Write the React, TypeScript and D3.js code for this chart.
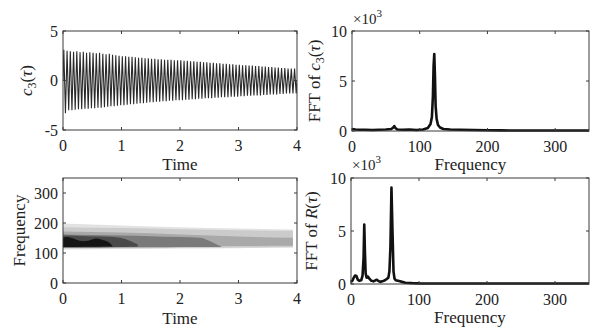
import React from 'react';
import * as d3 from 'd3';

const W = 595;
const H = 329;
const FONT = '"Liberation Serif", "Times New Roman", serif';

// ---------------- data ----------------
// c3(tau): successive positive / negative peaks of the oscillation (18 cycles per time unit)
const c3UpperPeaks = [
  3.1, 3.0, 2.95, 2.9, 2.95, 2.85, 2.9, 2.8, 2.85, 2.8, 2.75, 2.8, 2.7, 2.65, 2.7, 2.6, 2.55, 2.5,
  2.45, 2.45, 2.4, 2.4, 2.35, 2.3, 2.3, 2.25, 2.25, 2.2, 2.2, 2.15, 2.15, 2.1, 2.1, 2.1, 2.05, 2.05,
  2.05, 2.0, 2.0, 1.95, 1.95, 1.9, 1.9, 1.85, 1.85, 1.8, 1.8, 1.75, 1.75, 1.7, 1.7, 1.65, 1.65, 1.6,
  1.6, 1.55, 1.55, 1.5, 1.5, 1.45, 1.45, 1.4, 1.4, 1.35, 1.35, 1.3, 1.3, 1.25, 1.25, 1.2, 1.2, 1.2,
];
const c3LowerPeaks = [
  -3.3, -3.0, -3.0, -2.95, -2.9, -2.9, -2.85, -2.85, -2.8, -2.8, -2.75, -2.75, -2.7, -2.65, -2.6, -2.6, -2.55, -2.5,
  -2.5, -2.45, -2.4, -2.4, -2.35, -2.3, -2.3, -2.25, -2.2, -2.2, -2.15, -2.15, -2.1, -2.1, -2.05, -2.05, -2.0, -2.0,
  -2.0, -1.95, -1.95, -1.9, -1.9, -1.85, -1.85, -1.8, -1.8, -1.8, -1.75, -1.75, -1.7, -1.7, -1.7, -1.65, -1.65, -1.65,
  -1.6, -1.6, -1.55, -1.55, -1.5, -1.5, -1.5, -1.45, -1.45, -1.4, -1.4, -1.4, -1.35, -1.35, -1.3, -1.3, -1.3, -1.3,
];
const c3Duration = 4;

// FFT of c3 (x10^3)
const fftC3Freq = [0, 5, 10, 20, 30, 40, 50, 58, 61, 62.5, 64, 67, 75, 85, 95, 105, 112, 116, 118, 119.5,
  120.5, 121.5, 122.5, 123.5, 125, 127, 130, 135, 145, 160, 180, 200, 220, 250, 280, 310, 350];
const fftC3Amp = [0.2, 0.15, 0.12, 0.12, 0.1, 0.12, 0.15, 0.2, 0.35, 0.5, 0.3, 0.15, 0.12, 0.15, 0.1, 0.15, 0.3, 0.7, 1.4, 3.5,
  6.5, 7.7, 5.5, 2.5, 1.2, 0.6, 0.35, 0.2, 0.15, 0.12, 0.1, 0.08, 0.06, 0.05, 0.05, 0.05, 0.05];

// FFT of R (x10^3)
const fftRFreq = [0, 2, 4, 6, 8, 10, 12, 15, 17, 18.5, 19.5, 20.5, 21.5, 23, 25, 27, 30, 33, 36, 38,
  40, 43, 46, 50, 53, 55, 56.5, 58, 59.5, 61, 62.5, 64, 66, 69, 72, 75, 80, 90, 100, 120,
  150, 200, 250, 300, 350];
const fftRAmp = [0.2, 0.3, 0.6, 0.8, 0.75, 0.4, 0.3, 0.35, 0.8, 2.5, 5.6, 3.0, 1.0, 0.6, 0.7, 0.5, 0.3, 0.25, 0.35, 0.4,
  0.3, 0.2, 0.25, 0.35, 0.5, 0.6, 1.2, 3.5, 9.1, 5.0, 1.2, 0.5, 0.35, 0.3, 0.25, 0.2, 0.12, 0.08, 0.06, 0.05,
  0.05, 0.05, 0.05, 0.05, 0.05];

// Spectrogram contour levels (time, lower frequency, upper frequency), lightest to darkest
const level1Time = [0, 1, 2, 3, 3.93];
const level1Low = [112, 113, 115, 116, 118];
const level1High = [198, 192, 186, 182, 178];
const level2Time = [0, 1, 2, 3, 3.93];
const level2Low = [115, 116, 117, 118, 119];
const level2High = [186, 183, 179, 176, 174];
const level3Time = [0, 1, 2, 3, 3.93];
const level3Low = [117, 119, 121, 123, 124];
const level3High = [172, 168, 162, 155, 151];
const level4Time = [0, 0.5, 1, 1.5, 2, 2.34, 2.55, 2.71];
const level4Low = [118, 118, 119, 119, 120, 120, 120, 120];
const level4High = [162, 160, 158, 156, 153, 151, 136, 121];
const level5Time = [0, 0.4, 0.8, 1.0, 1.15, 1.28];
const level5Low = [119, 119, 120, 120, 121, 122];
const level5High = [158, 156, 154, 150, 140, 128];
const level6Time = [0, 0.06, 0.2, 0.34, 0.45, 0.57, 0.68, 0.8, 0.85];
const level6Low = [120, 120, 120, 121, 121, 121, 122, 122, 122];
const level6High = [150, 153, 147, 139, 142, 148, 143, 133, 122];

const levelColors = ['#e2e2e2', '#cbcbcb', '#a9a9a9', '#7a7a7a', '#4a4a4a', '#151515'];

// ticks
const timeTicks = [0, 1, 2, 3, 4];
const c3Ticks = [-5, 0, 5];
const freqTicks = [0, 100, 200, 300];
const fftTicks = [0, 5, 10];

// ---------------- helpers ----------------
type Box = { x0: number; x1: number; y0: number; y1: number };

const TICK_FS = 16;
const LABEL_FS = 17;

function Frame({ box, xs, ys, xTicks, yTicks }: any) {
  const tl = 3;
  return (
    <g>
      <rect x={box.x0} y={box.y0} width={box.x1 - box.x0} height={box.y1 - box.y0}
        fill="none" stroke="#3a3a3a" strokeWidth={1} />
      {xTicks.map((t: number) => (
        <g key={'x' + t}>
          <line x1={xs(t)} x2={xs(t)} y1={box.y1} y2={box.y1 - tl} stroke="#3a3a3a" />
          <line x1={xs(t)} x2={xs(t)} y1={box.y0} y2={box.y0 + tl} stroke="#3a3a3a" />
          <text x={xs(t)} y={box.y1 + 21} textAnchor="middle" fontSize={TICK_FS} fill="#222">{t}</text>
        </g>
      ))}
      {yTicks.map((t: number) => (
        <g key={'y' + t}>
          <line x1={box.x0} x2={box.x0 + tl} y1={ys(t)} y2={ys(t)} stroke="#3a3a3a" />
          <line x1={box.x1} x2={box.x1 - tl} y1={ys(t)} y2={ys(t)} stroke="#3a3a3a" />
          <text x={box.x0 - 5} y={ys(t)} textAnchor="end" dominantBaseline="central" fontSize={TICK_FS} fill="#222">{t}</text>
        </g>
      ))}
    </g>
  );
}

function Multiplier({ x, y }: { x: number; y: number }) {
  return (
    <text x={x} y={y} fontSize={15} fill="#222">
      ×10<tspan dy={-7} fontSize={11}>3</tspan>
    </text>
  );
}

export default function App() {
  const tl: Box = { x0: 63, x1: 297, y0: 31, y1: 130 };
  const tr: Box = { x0: 352, x1: 589, y0: 31, y1: 131 };
  const bl: Box = { x0: 63, x1: 297, y0: 178, y1: 283 };
  const br: Box = { x0: 351, x1: 589, y0: 178, y1: 284 };

  // top-left
  const xTL = d3.scaleLinear().domain([0, 4]).range([tl.x0, tl.x1]);
  const yTL = d3.scaleLinear().domain([-5, 5]).range([tl.y1, tl.y0]);
  const period = c3Duration / c3UpperPeaks.length;
  const sig: [number, number][] = [[0, 0]];
  c3UpperPeaks.forEach((u, i) => {
    sig.push([(i + 0.25) * period, u]);
    sig.push([(i + 0.75) * period, c3LowerPeaks[i]]);
  });
  sig.push([c3Duration, 0]);
  const sigLine = d3.line<[number, number]>().x(d => xTL(d[0])).y(d => yTL(d[1]));

  // top-right
  const xTR = d3.scaleLinear().domain([0, 350]).range([tr.x0, tr.x1]);
  const yTR = d3.scaleLinear().domain([0, 10]).range([tr.y1, tr.y0]);
  const fftC3Line = d3.line<number>().x((_, i) => xTR(fftC3Freq[i])).y(d => yTR(d));

  // bottom-left
  const xBL = d3.scaleLinear().domain([0, 4]).range([bl.x0, bl.x1]);
  const yBL = d3.scaleLinear().domain([0, 350]).range([bl.y1, bl.y0]);
  const levels = [
    [level1Time, level1Low, level1High],
    [level2Time, level2Low, level2High],
    [level3Time, level3Low, level3High],
    [level4Time, level4Low, level4High],
    [level5Time, level5Low, level5High],
    [level6Time, level6Low, level6High],
  ];
  const area = (t: number[], lo: number[], hi: number[]) =>
    d3.area<number>()
      .x((_, i) => xBL(t[i]))
      .y0((_, i) => yBL(lo[i]))
      .y1((_, i) => yBL(hi[i]))
      .curve(d3.curveMonotoneX)(t);

  // bottom-right
  const xBR = d3.scaleLinear().domain([0, 350]).range([br.x0, br.x1]);
  const yBR = d3.scaleLinear().domain([0, 10]).range([br.y1, br.y0]);
  const fftRLine = d3.line<number>().x((_, i) => xBR(fftRFreq[i])).y(d => yBR(d));

  return (
    <svg width={W} height={H} viewBox={`0 0 ${W} ${H}`}
      style={{ position: 'absolute', left: 0, top: 0, background: '#fff' }}
      fontFamily={FONT}>
      <rect x={0} y={0} width={W} height={H} fill="#fff" />
      <defs>
        <clipPath id="clipBL"><rect x={bl.x0} y={bl.y0} width={bl.x1 - bl.x0} height={bl.y1 - bl.y0} /></clipPath>
        <clipPath id="clipTL"><rect x={tl.x0} y={tl.y0} width={tl.x1 - tl.x0} height={tl.y1 - tl.y0} /></clipPath>
      </defs>

      {/* top-left: c3 time series */}
      <g clipPath="url(#clipTL)">
        <path d={sigLine(sig) || ''} fill="none" stroke="#2a2a2a" strokeWidth={1.1} />
      </g>
      <Frame box={tl} xs={xTL} ys={yTL} xTicks={timeTicks} yTicks={c3Ticks} />
      <text x={tl.x0 + (tl.x1 - tl.x0) / 2} y={tl.y1 + 40} textAnchor="middle" fontSize={LABEL_FS} fill="#222">Time</text>
      <text transform={`translate(31.5,${(tl.y0 + tl.y1) / 2}) rotate(-90)`} textAnchor="middle" fontSize={LABEL_FS} fill="#222">
        <tspan fontStyle="italic">c</tspan><tspan fontSize={12} dy={4}>3</tspan><tspan dy={-4}>(</tspan><tspan fontStyle="italic">τ</tspan>)
      </text>

      {/* top-right: FFT of c3 */}
      <path d={fftC3Line(fftC3Amp) || ''} fill="none" stroke="#111" strokeWidth={2.6} strokeLinejoin="round" />
      <Frame box={tr} xs={xTR} ys={yTR} xTicks={freqTicks} yTicks={fftTicks} />
      <Multiplier x={tr.x0 + 1} y={tr.y0 - 7} />
      <text x={(tr.x0 + tr.x1) / 2} y={tr.y1 + 39} textAnchor="middle" fontSize={LABEL_FS} fill="#222">Frequency</text>
      <text transform={`translate(320,${(tr.y0 + tr.y1) / 2}) rotate(-90)`} textAnchor="middle" fontSize={LABEL_FS} fill="#222">
        FFT of <tspan fontStyle="italic">c</tspan><tspan fontSize={12} dy={4}>3</tspan><tspan dy={-4}>(</tspan><tspan fontStyle="italic">τ</tspan>)
      </text>

      {/* bottom-left: spectrogram contours */}
      <g clipPath="url(#clipBL)">
        {levels.map((lv, i) => (
          <path key={i} d={area(lv[0], lv[1], lv[2]) || ''} fill={levelColors[i]} stroke="none" />
        ))}
      </g>
      <Frame box={bl} xs={xBL} ys={yBL} xTicks={timeTicks} yTicks={freqTicks} />
      <text x={(bl.x0 + bl.x1) / 2} y={bl.y1 + 41} textAnchor="middle" fontSize={LABEL_FS} fill="#222">Time</text>
      <text transform={`translate(25,${(bl.y0 + bl.y1) / 2}) rotate(-90)`} textAnchor="middle" fontSize={LABEL_FS} fill="#222">Frequency</text>

      {/* bottom-right: FFT of R */}
      <path d={fftRLine(fftRAmp) || ''} fill="none" stroke="#111" strokeWidth={2.6} strokeLinejoin="round" />
      <Frame box={br} xs={xBR} ys={yBR} xTicks={freqTicks} yTicks={fftTicks} />
      <Multiplier x={br.x0 + 1} y={br.y0 - 8} />
      <text x={(br.x0 + br.x1) / 2} y={br.y1 + 39} textAnchor="middle" fontSize={LABEL_FS} fill="#222">Frequency</text>
      <text transform={`translate(317,${(br.y0 + br.y1) / 2}) rotate(-90)`} textAnchor="middle" fontSize={LABEL_FS} fill="#222">
        FFT of <tspan fontStyle="italic">R</tspan>(<tspan fontStyle="italic">τ</tspan>)
      </text>
    </svg>
  );
}
